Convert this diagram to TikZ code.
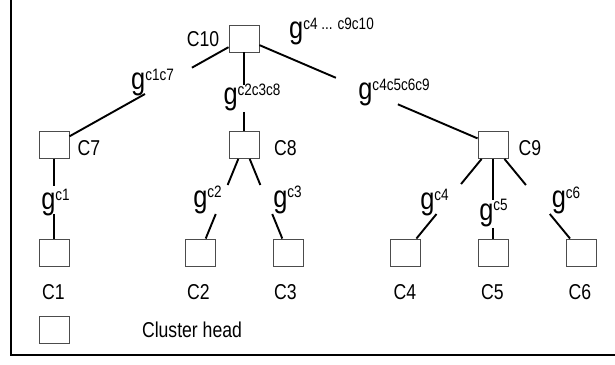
\documentclass[tikz,border=0pt]{standalone}
\usepackage{fontspec}
\setmainfont{Liberation Sans}[FakeStretch=0.82]
\usetikzlibrary{calc}
\newcommand{\glab}[1]{{\fontsize{31}{31}\selectfont g}\raisebox{9.5pt}{\fontsize{16.5}{16.5}\selectfont #1}}
\newcommand{\gapline}[5][]{\draw[conn,#1] (#2) -- ($(#2)!#4!(#3)$); \draw[conn,#1] ($(#2)!#5!(#3)$) -- (#3);}
\begin{document}
\begin{tikzpicture}[x=1pt,y=-1pt,
 chbox/.style={draw=black!70, line width=0.9pt, minimum width=30pt, minimum height=27pt, inner sep=0pt, fill=white},
 conn/.style={line width=1.9pt},
 vconn/.style={line width=1.4pt},
 lbl/.style={inner sep=0pt, font=\fontsize{21.5}{21.5}\selectfont},
 glbl/.style={inner sep=0pt}]
\useasboundingbox (0,0) rectangle (615,364);
\draw[line width=2pt] (10.6,0) -- (10.6,355) -- (615,355);
% boxes
\node[chbox] (b10) at (244,38.5) {};
\node[chbox] (b7) at (54,145) {};
\node[chbox] (b8) at (244,145) {};
\node[chbox] (b9) at (493,145) {};
\node[chbox] (b1) at (54,252.5) {};
\node[chbox] (b2) at (200,252.5) {};
\node[chbox] (b3) at (288,252.5) {};
\node[chbox] (b4) at (405,252.5) {};
\node[chbox] (b5) at (493,252.5) {};
\node[chbox] (b6) at (581.5,252.5) {};
\node[chbox] (leg) at (54,330) {};
% names
\node[lbl] (l10) at (203,39.5) {C10};
\node[lbl] (l7) at (89,148) {C7};
\node[lbl] (l8) at (285.5,148) {C8};
\node[lbl] (l9) at (530,148) {C9};
\node[lbl] (l1) at (53.5,292.5) {C1};
\node[lbl] (l2) at (198.5,292.5) {C2};
\node[lbl] (l3) at (285.5,292.5) {C3};
\node[lbl] (l4) at (405,292.5) {C4};
\node[lbl] (l5) at (492.5,292.5) {C5};
\node[lbl] (l6) at (580,292.5) {C6};
\node[lbl] (lch) at (192,330) {Cluster head};
% g labels
\node[glbl] (gtop) at (331.5,31.5) {\glab{c4 ... c9c10}};
\node[glbl] (g17) at (152.5,82.5) {\glab{c1c7}};
\node[glbl] (g238) at (252,97.5) {\glab{c2c3c8}};
\node[glbl] (g4569) at (394,92.5) {\glab{c4c5c6c9}};
\node[glbl] (g1) at (55.5,202.5) {\glab{c1}};
\node[glbl] (g2) at (207.5,200) {\glab{c2}};
\node[glbl] (g3) at (287.5,200) {\glab{c3}};
\node[glbl] (g4) at (434.5,202.5) {\glab{c4}};
\node[glbl] (g5) at (493.5,213) {\glab{c5}};
\node[glbl] (g6) at (566,200.5) {\glab{c6}};
% connectors
\gapline{b10}{b7}{0.274}{0.521}
\gapline[vconn]{b10}{b8}{0.437}{0.69}
\gapline{b10}{b9}{0.369}{0.618}
\gapline[vconn]{b7}{b1}{0.381}{0.642}
\gapline{b8}{b2}{0.372}{0.642}
\gapline{b8}{b3}{0.372}{0.642}
\gapline{b9}{b4}{0.363}{0.642}
\gapline[vconn]{b9}{b5}{0.512}{0.772}
\gapline{b9}{b6}{0.372}{0.642}
\end{tikzpicture}
\end{document}
